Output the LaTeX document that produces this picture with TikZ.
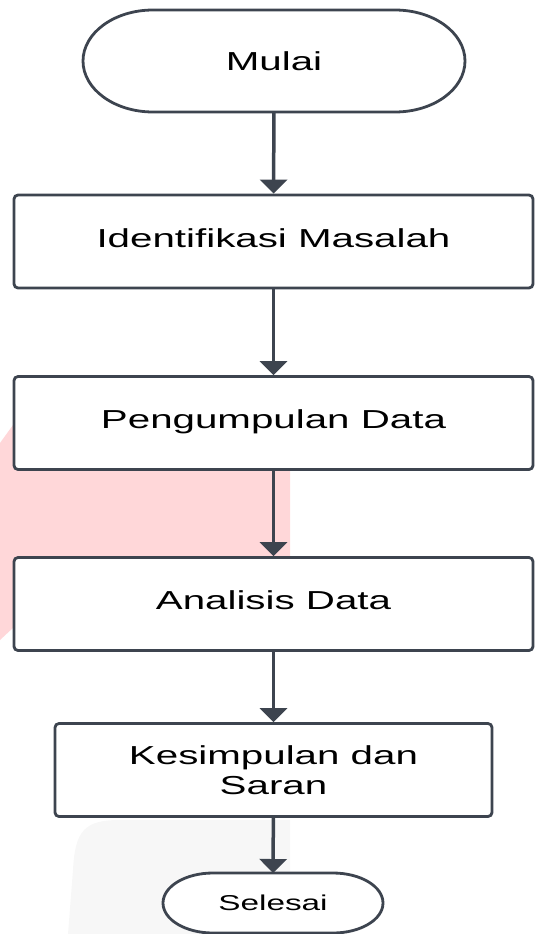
\documentclass[tikz,border=0pt]{standalone}
\usepackage{fontspec}
\setmainfont[FakeStretch=1.55]{Liberation Sans}
\usetikzlibrary{arrows.meta}
\definecolor{ln}{HTML}{3D444F}
\definecolor{wm}{HTML}{FFD7D9}
\definecolor{wg}{HTML}{F7F7F7}
\begin{document}
\begin{tikzpicture}[x=1pt,y=-1pt,
  box/.style={draw=ln, line width=2.8pt, fill=white, rounded corners=4pt,
    minimum width=519pt, minimum height=93pt, inner sep=0pt,
    font=\fontsize{26}{30}\selectfont, text=black},
  onel/.style={text height=19pt, text depth=8pt},
  term/.style={inner sep=0pt, outer sep=0pt, text=black},
  arr/.style={draw=ln, line width=3.5pt, -{Triangle[width=27pt,length=14pt]}},
  tline/.style={draw=ln, line width=2.8pt, fill=white}]
\useasboundingbox (0,0) rectangle (535,934);
% watermark shapes
\fill[wm] (0,443) -- (47,378) -- (290,378) -- (290,625) -- (14,627) -- (0,640) -- cycle;
\fill[wg] (68,934) -- (73,870) .. controls (75,830) and (85,820) .. (120,820) -- (290,820) -- (290,934) -- cycle;
% terminators
\draw[tline] (153,10) -- (395,10) arc[start angle=90, end angle=-90, x radius=70pt, y radius=51pt]
  -- (153,112) arc[start angle=-90, end angle=-270, x radius=70pt, y radius=51pt] -- cycle;
\node[term, minimum width=382pt, minimum height=102pt, font=\fontsize{26}{30}\selectfont] (mulai) at (274,61) {Mulai};
\draw[tline] (213,873) -- (333,873) arc[start angle=90, end angle=-90, x radius=50pt, y radius=30pt]
  -- (213,933) arc[start angle=-90, end angle=-270, x radius=50pt, y radius=30pt] -- cycle;
\node[term, minimum width=220pt, minimum height=60pt, font=\fontsize{21.5}{25}\selectfont] (selesai) at (273,903) {Selesai};
% process boxes
\node[box, onel] (b1) at (273.5,241.5) {Identifikasi Masalah};
\node[box, onel] (b2) at (273.5,423) {Pengumpulan Data};
\node[box, onel] (b3) at (273.5,604) {Analisis Data};
\node[box, minimum width=437pt, align=center] (b4) at (273.5,770) {Kesimpulan dan\\Saran};
% connectors
\draw[arr] (mulai) -- (b1);
\draw[arr] (b1) -- (b2);
\draw[arr] (b2) -- (b3);
\draw[arr] (b3) -- (b4);
\draw[arr] (b4) -- (selesai);
\end{tikzpicture}
\end{document}
